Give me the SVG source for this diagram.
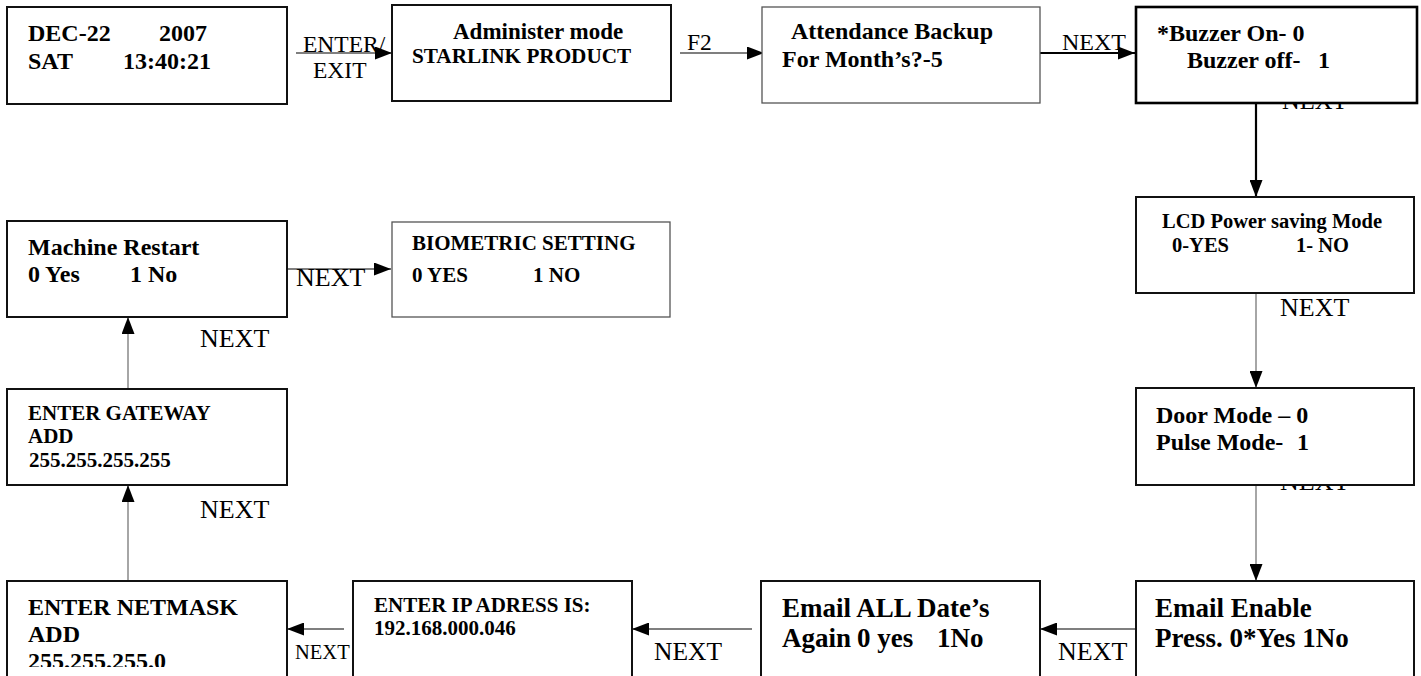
<svg xmlns="http://www.w3.org/2000/svg" width="1421" height="676" viewBox="0 0 1421 676">
<style>
.box{fill:#fff;stroke:#111;stroke-width:2}
.thin{fill:#fff;stroke:#555;stroke-width:1.3}
.heavy{fill:#fff;stroke:#000;stroke-width:2.6}
.t{font-family:"Liberation Serif","Times New Roman",serif;font-weight:bold;fill:#000}
.l{font-family:"Liberation Serif","Times New Roman",serif;font-weight:normal;fill:#000}
.c{stroke:#000;stroke-width:1.2;fill:none}
.ck{stroke:#000;stroke-width:2.2;fill:none}
.g{stroke:#a6a6a6;stroke-width:2;fill:none}
</style>
<defs>
<marker id="ah" markerUnits="userSpaceOnUse" markerWidth="17" markerHeight="13" viewBox="0 0 17 13" refX="17" refY="6.5" orient="auto">
<path d="M0,0 L17,6.5 L0,13 z" fill="#000"/>
</marker>
<clipPath id="nmclip"><rect x="7" y="581" width="280" height="86"/></clipPath>
</defs>
<rect width="1421" height="676" fill="#fff"/>
<g id="connectors">
<line class="c" x1="296" y1="53" x2="392" y2="53" marker-end="url(#ah)"/>
<text class="l" x="303" y="52" font-size="23.5">ENTER/</text>
<text class="l" x="313" y="78" font-size="23.5">EXIT</text>
<line class="c" x1="680" y1="53" x2="764" y2="53" marker-end="url(#ah)"/>
<text class="l" x="687" y="50" font-size="23.5">F2</text>
<line class="ck" x1="1040" y1="53" x2="1135" y2="53" marker-end="url(#ah)"/>
<text class="l" x="1062" y="50" font-size="24">NEXT</text>
<text class="l" x="1282" y="108.5" font-size="24.5">NEXT</text>
<line class="ck" x1="1256" y1="103" x2="1256" y2="197" marker-end="url(#ah)"/>
<line class="g" x1="1256" y1="293" x2="1256" y2="388" marker-end="url(#ah)"/>
<text class="l" x="1280" y="316" font-size="26">NEXT</text>
<text class="l" x="1280" y="490" font-size="26">NEXT</text>
<line class="g" x1="1256" y1="485" x2="1256" y2="581" marker-end="url(#ah)"/>
<line class="c" x1="1136" y1="629" x2="1040" y2="629" marker-end="url(#ah)"/>
<text class="l" x="1058" y="660" font-size="26">NEXT</text>
<line class="c" x1="752" y1="629" x2="632" y2="629" marker-end="url(#ah)"/>
<text class="l" x="654" y="660" font-size="25.5">NEXT</text>
<line class="c" x1="344" y1="629" x2="287" y2="629" marker-end="url(#ah)"/>
<text class="l" x="295" y="659" font-size="20.5">NEXT</text>
<line class="g" x1="128" y1="581" x2="128" y2="485" marker-end="url(#ah)"/>
<text class="l" x="200" y="518" font-size="26">NEXT</text>
<line class="g" x1="128" y1="389" x2="128" y2="317" marker-end="url(#ah)"/>
<text class="l" x="200" y="347" font-size="26">NEXT</text>
<line class="c" x1="287" y1="269" x2="391" y2="269" marker-end="url(#ah)"/>
<text class="l" x="296" y="286" font-size="26">NEXT</text>
</g>
<g id="node-datetime">
<rect class="box" x="7" y="7" width="280" height="97"/>
<text class="t" font-size="24"><tspan x="28" y="41">DEC-22</tspan><tspan x="159" y="41">2007</tspan><tspan x="28" y="69">SAT</tspan><tspan x="123" y="69">13:40:21</tspan></text>
</g>
<g id="node-admin">
<rect class="box" x="392" y="5" width="279" height="96"/>
<text class="t"><tspan x="453" y="39" font-size="23">Administer mode</tspan><tspan x="412" y="63" font-size="21.2">STARLINK PRODUCT</tspan></text>
</g>
<g id="node-attendance">
<rect class="thin" x="762" y="7" width="278" height="96"/>
<text class="t" font-size="24"><tspan x="791" y="39">Attendance Backup</tspan><tspan x="782" y="67">For Month’s?-5</tspan></text>
</g>
<g id="node-buzzer">
<rect class="heavy" x="1136" y="7" width="281" height="96"/>
<text class="t" font-size="24"><tspan x="1157" y="41">*Buzzer On- 0</tspan><tspan x="1187" y="68">Buzzer off-</tspan><tspan x="1318" y="68">1</tspan></text>
</g>
<g id="node-lcd">
<rect class="box" x="1136" y="197" width="278" height="96"/>
<text class="t" font-size="20.5"><tspan x="1162" y="228">LCD Power saving Mode</tspan><tspan x="1172" y="252">0-YES</tspan><tspan x="1296" y="252">1- NO</tspan></text>
</g>
<g id="node-door">
<rect class="box" x="1136" y="388" width="278" height="97"/>
<text class="t" font-size="24"><tspan x="1156" y="423">Door Mode – 0</tspan><tspan x="1156" y="450">Pulse Mode-</tspan><tspan x="1297" y="450">1</tspan></text>
</g>
<g id="node-email-enable">
<rect class="box" x="1136" y="581" width="278" height="120"/>
<text class="t" font-size="27"><tspan x="1155" y="617">Email Enable</tspan><tspan x="1155" y="647">Press. 0*Yes 1No</tspan></text>
</g>
<g id="node-email-all">
<rect class="box" x="761" y="581" width="279" height="120"/>
<text class="t" font-size="27"><tspan x="782" y="617">Email ALL Date’s</tspan><tspan x="782" y="647">Again</tspan><tspan x="857" y="647">0 yes</tspan><tspan x="937" y="647">1No</tspan></text>
</g>
<g id="node-ip">
<rect class="box" x="353" y="581" width="279" height="120"/>
<text class="t" font-size="21"><tspan x="374" y="612">ENTER IP ADRESS IS:</tspan><tspan x="374" y="635">192.168.000.046</tspan></text>
</g>
<g id="node-netmask">
<rect class="box" x="7" y="581" width="280" height="120"/>
<text class="t" font-size="24" clip-path="url(#nmclip)"><tspan x="28" y="615">ENTER NETMASK</tspan><tspan x="28" y="642">ADD</tspan><tspan x="28" y="669">255.255.255.0</tspan></text>
</g>
<g id="node-gateway">
<rect class="box" x="7" y="389" width="280" height="96"/>
<text class="t" font-size="21"><tspan x="28" y="420">ENTER GATEWAY</tspan><tspan x="28" y="443">ADD</tspan><tspan x="29" y="467">255.255.255.255</tspan></text>
</g>
<g id="node-restart">
<rect class="box" x="7" y="221" width="280" height="96"/>
<text class="t" font-size="24"><tspan x="28" y="255">Machine Restart</tspan><tspan x="28" y="282">0 Yes</tspan><tspan x="130" y="282">1 No</tspan></text>
</g>
<g id="node-biometric">
<rect class="thin" x="392" y="222" width="278" height="95"/>
<text class="t" font-size="21"><tspan x="412" y="250">BIOMETRIC SETTING</tspan><tspan x="412" y="282">0 YES</tspan><tspan x="533" y="282">1 NO</tspan></text>
</g>
</svg>
